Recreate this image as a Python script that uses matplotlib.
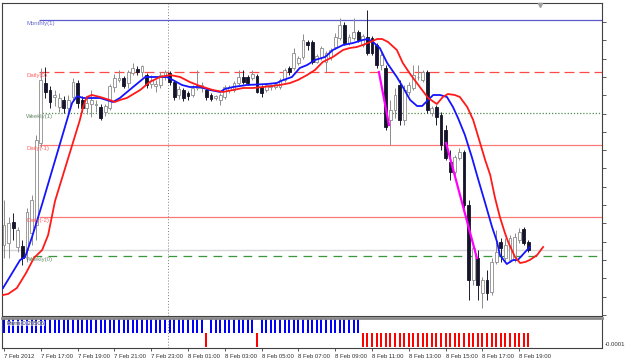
import numpy as np
import matplotlib
matplotlib.use("Agg")
import matplotlib.pyplot as plt

plt.rcParams['font.family'] = ['Liberation Sans', 'DejaVu Sans']

# M15 candles, 7 Feb 2012 15:00 .. 8 Feb 2012 19:30 (bar index = position)
opens = [1.3155, 1.3157, 1.3178, 1.3153, 1.3154, 1.3150, 1.3167, 1.3175, 1.3257, 1.3317,
	1.3310, 1.3303, 1.3293, 1.3300, 1.3292, 1.3303, 1.3317, 1.3300, 1.3292, 1.3296,
	1.3295, 1.3293, 1.3288, 1.3292, 1.3313, 1.3320, 1.3322, 1.3317, 1.3327, 1.3331,
	1.3328, 1.3325, 1.3316, 1.3314, 1.3315, 1.3323, 1.3327, 1.3318, 1.3305, 1.3310,
	1.3307, 1.3305, 1.3312, 1.3312, 1.3310, 1.3305, 1.3302, 1.3300, 1.3303, 1.3310,
	1.3310, 1.3317, 1.3323, 1.3323, 1.3322, 1.3324, 1.3313, 1.3310, 1.3313, 1.3313,
	1.3313, 1.3320, 1.3332, 1.3332, 1.3337, 1.3343, 1.3358, 1.3358, 1.3338, 1.3343,
	1.3338, 1.3343, 1.3353, 1.3362, 1.3375, 1.3357, 1.3362, 1.3368, 1.3355, 1.3363,
	1.3362, 1.3355, 1.3335, 1.3332, 1.3280, 1.3290, 1.3315, 1.3280, 1.3308, 1.3312,
	1.3323, 1.3320, 1.3328, 1.3287, 1.3293, 1.3285, 1.3270, 1.3238, 1.3228, 1.3242,
	1.3248, 1.3195, 1.3120, 1.3142, 1.3107, 1.3120, 1.3108, 1.3138, 1.3158, 1.3142,
	1.3140, 1.3140, 1.3160, 1.3171, 1.3158]
highs = [1.3200, 1.3183, 1.3187, 1.3173, 1.3160, 1.3192, 1.3205, 1.3265, 1.3332, 1.3333,
	1.3314, 1.3310, 1.3307, 1.3304, 1.3305, 1.3322, 1.3320, 1.3304, 1.3302, 1.3310,
	1.3300, 1.3296, 1.3296, 1.3316, 1.3326, 1.3330, 1.3324, 1.3330, 1.3337, 1.3334,
	1.3335, 1.3327, 1.3325, 1.3320, 1.3328, 1.3330, 1.3329, 1.3320, 1.3314, 1.3312,
	1.3309, 1.3315, 1.3330, 1.3318, 1.3312, 1.3307, 1.3305, 1.3307, 1.3315, 1.3315,
	1.3319, 1.3330, 1.3330, 1.3325, 1.3330, 1.3326, 1.3315, 1.3317, 1.3316, 1.3318,
	1.3322, 1.3332, 1.3334, 1.3352, 1.3344, 1.3366, 1.3360, 1.3360, 1.3346, 1.3354,
	1.3349, 1.3352, 1.3367, 1.3382, 1.3378, 1.3366, 1.3382, 1.3370, 1.3366, 1.3390,
	1.3364, 1.3357, 1.3348, 1.3335, 1.3300, 1.3312, 1.3320, 1.3315, 1.3318, 1.3335,
	1.3335, 1.3330, 1.3330, 1.3294, 1.3295, 1.3288, 1.3275, 1.3250, 1.3245, 1.3252,
	1.3250, 1.3200, 1.3155, 1.3150, 1.3123, 1.3130, 1.3142, 1.3170, 1.3162, 1.3162,
	1.3165, 1.3167, 1.3172, 1.3173, 1.3160]
lows = [1.3142, 1.3142, 1.3160, 1.3148, 1.3135, 1.3138, 1.3155, 1.3160, 1.3253, 1.3302,
	1.3292, 1.3294, 1.3288, 1.3287, 1.3285, 1.3300, 1.3292, 1.3288, 1.3286, 1.3283,
	1.3288, 1.3280, 1.3284, 1.3290, 1.3308, 1.3318, 1.3312, 1.3312, 1.3325, 1.3325,
	1.3323, 1.3312, 1.3312, 1.3308, 1.3312, 1.3320, 1.3315, 1.3300, 1.3301, 1.3299,
	1.3300, 1.3303, 1.3310, 1.3308, 1.3300, 1.3299, 1.3300, 1.3295, 1.3301, 1.3307,
	1.3308, 1.3315, 1.3316, 1.3315, 1.3320, 1.3307, 1.3303, 1.3308, 1.3310, 1.3311,
	1.3311, 1.3318, 1.3325, 1.3330, 1.3335, 1.3341, 1.3350, 1.3336, 1.3337, 1.3340,
	1.3328, 1.3340, 1.3351, 1.3360, 1.3355, 1.3355, 1.3360, 1.3358, 1.3353, 1.3345,
	1.3345, 1.3332, 1.3330, 1.3270, 1.3255, 1.3282, 1.3275, 1.3275, 1.3305, 1.3310,
	1.3320, 1.3318, 1.3287, 1.3284, 1.3275, 1.3250, 1.3240, 1.3220, 1.3225, 1.3240,
	1.3192, 1.3100, 1.3115, 1.3100, 1.3092, 1.3100, 1.3105, 1.3136, 1.3138, 1.3138,
	1.3138, 1.3138, 1.3157, 1.3155, 1.3148]
closes = [1.3175, 1.3177, 1.3172, 1.3170, 1.3142, 1.3188, 1.3200, 1.3260, 1.3320, 1.3308,
	1.3298, 1.3305, 1.3302, 1.3292, 1.3300, 1.3318, 1.3297, 1.3292, 1.3297, 1.3300,
	1.3296, 1.3282, 1.3294, 1.3314, 1.3322, 1.3322, 1.3314, 1.3328, 1.3332, 1.3328,
	1.3334, 1.3315, 1.3320, 1.3316, 1.3325, 1.3328, 1.3318, 1.3303, 1.3311, 1.3302,
	1.3304, 1.3312, 1.3315, 1.3315, 1.3303, 1.3301, 1.3304, 1.3305, 1.3313, 1.3313,
	1.3317, 1.3323, 1.3318, 1.3317, 1.3326, 1.3308, 1.3307, 1.3315, 1.3315, 1.3316,
	1.3320, 1.3330, 1.3328, 1.3347, 1.3342, 1.3360, 1.3355, 1.3338, 1.3344, 1.3352,
	1.3347, 1.3350, 1.3363, 1.3375, 1.3357, 1.3363, 1.3368, 1.3360, 1.3364, 1.3347,
	1.3347, 1.3335, 1.3345, 1.3273, 1.3290, 1.3305, 1.3280, 1.3310, 1.3315, 1.3325,
	1.3323, 1.3328, 1.3290, 1.3292, 1.3283, 1.3255, 1.3242, 1.3228, 1.3243, 1.3248,
	1.3195, 1.3120, 1.3152, 1.3115, 1.3120, 1.3107, 1.3138, 1.3148, 1.3152, 1.3155,
	1.3162, 1.3163, 1.3168, 1.3157, 1.3150]

# fast moving average (blue) at bar positions
fast_x = [-0.2, 3.5, 4.6, 6.1, 8.3, 13.7, 14.8, 15.9, 17.2, 20.9, 23.7, 25.2, 27.8, 30.7,
	33.5, 35.4, 36.7, 38.7, 40.4, 42.6, 44.8, 47.0, 48.0, 49.8, 52.8, 57.2, 59.3, 60.7,
	62.6, 64.3, 65.9, 67.6, 69.8, 71.5, 73.7, 75.9, 78.0, 79.1, 80.2, 81.7, 83.3, 85.4,
	86.7, 88.3, 89.8, 90.9, 92.2, 93.3, 94.8, 96.3, 97.6, 98.7, 100.2, 101.7, 103.0,
	104.6, 106.1, 107.2, 107.8, 109.3, 110.7, 111.7, 113.3, 114.3]
fast_y = [1.3112, 1.3140, 1.3143, 1.3163, 1.3196, 1.3280, 1.3297, 1.3304, 1.3302, 1.3302,
	1.3298, 1.3302, 1.3312, 1.3323, 1.3323, 1.3323, 1.3320, 1.3315, 1.3313, 1.3313,
	1.3310, 1.3308, 1.3311, 1.3313, 1.3315, 1.3316, 1.3317, 1.3320, 1.3323, 1.3332,
	1.3335, 1.3340, 1.3343, 1.3350, 1.3355, 1.3357, 1.3360, 1.3361, 1.3358, 1.3352,
	1.3337, 1.3323, 1.3313, 1.3300, 1.3294, 1.3294, 1.3300, 1.3305, 1.3305, 1.3303,
	1.3293, 1.3282, 1.3265, 1.3243, 1.3222, 1.3197, 1.3173, 1.3158, 1.3145, 1.3136,
	1.3140, 1.3140, 1.3148, 1.3153]

# slow shifted moving average (red)
slow_x = [-0.2, 0.9, 2.8, 4.8, 6.5, 8.3, 9.6, 11.1, 16.5, 17.2, 18.0, 19.1, 20.9, 23.0,
	24.1, 25.2, 26.7, 29.6, 31.7, 33.9, 36.1, 38.3, 40.4, 42.6, 45.4, 47.6, 49.8, 52.0,
	54.1, 56.3, 58.3, 60.0, 62.2, 63.9, 65.9, 67.6, 69.3, 71.5, 73.7, 75.2, 76.7, 78.0,
	79.6, 81.1, 82.2, 83.5, 85.4, 86.7, 88.3, 90.4, 92.2, 94.1, 95.4, 96.5, 98.0, 99.1,
	100.7, 102.0, 103.5, 104.6, 105.7, 106.7, 107.8, 108.9, 109.6, 111.1, 112.2, 113.3,
	114.3, 115.9, 117.2]
slow_y = [1.3105, 1.3106, 1.3112, 1.3127, 1.3142, 1.3150, 1.3165, 1.3199, 1.3280, 1.3293,
	1.3303, 1.3305, 1.3303, 1.3300, 1.3298, 1.3300, 1.3302, 1.3310, 1.3318, 1.3323,
	1.3325, 1.3323, 1.3318, 1.3314, 1.3310, 1.3308, 1.3310, 1.3312, 1.3312, 1.3313,
	1.3314, 1.3315, 1.3317, 1.3320, 1.3325, 1.3330, 1.3338, 1.3343, 1.3350, 1.3352,
	1.3353, 1.3355, 1.3358, 1.3361, 1.3361, 1.3358, 1.3350, 1.3337, 1.3326, 1.3313,
	1.3302, 1.3296, 1.3303, 1.3306, 1.3305, 1.3303, 1.3293, 1.3280, 1.3257, 1.3240,
	1.3225, 1.3203, 1.3183, 1.3167, 1.3158, 1.3143, 1.3137, 1.3138, 1.3140, 1.3145,
	1.3153]

# magenta swing segments
swing_x = [[81.5, 83.7], [96.1, 102.8]]
swing_y = [[1.3328, 1.3275], [1.3257, 1.3142]]

# pivot levels
level_names = ["Monthly(1)", "Daily(0)", "Weekly(1)", "Daily(-1)", "Daily(-2)", "Weekly(0)"]
level_prices = [1.3380, 1.3328, 1.3287, 1.3255, 1.3183, 1.3144]
level_start = [7.6, 7.6, 7.6, 7.6, 7.6, 6.3]
level_colors = ['#5a5ac8', '#ff4a4a', '#4e8e4e', '#ff7878', '#ff7878', '#3c963c']
level_text = ['#6a6ad0', '#ff6060', '#6a8a6a', '#ff6060', '#ff6060', '#6a8a6a']
level_styles = [(0, ()), (0, (8, 4)), (0, (1, 1.5)), (0, ()), (0, ()), (0, (7, 5))]
bid = 1.3150

# sub-window histogram signs
hist = [1] * 44 + [-1] + [1] * 10 + [-1] + [1] * 22 + [-1] * 37
hist_name = "Parm-0.20506"

tick_pos = list(range(0, 113, 8))
tick_labels = ["7 Feb 2012", "7 Feb 17:00", "7 Feb 19:00", "7 Feb 21:00", "7 Feb 23:00",
	"8 Feb 01:00", "8 Feb 03:00", "8 Feb 05:00", "8 Feb 07:00", "8 Feb 09:00",
	"8 Feb 11:00", "8 Feb 13:00", "8 Feb 15:00", "8 Feb 17:00", "8 Feb 19:00"]
separator = 35.7

W, H = 625, 360
fig = plt.figure(figsize=(W / 100, H / 100), dpi=100)
fig.patch.set_facecolor('white')
ax = fig.add_axes([2 / W, 1 - 316 / H, 600 / W, 313 / H])
axh = fig.add_axes([2 / W, 1 - 348 / H, 600 / W, 30 / H], sharex=ax)

xmin, xmax = -0.43, 130
ax.set_xlim(xmin, xmax)
ax.set_ylim(1.3084, 1.3397)

o, h, l, c = map(np.array, (opens, highs, lows, closes))
idx = np.arange(len(o))
up = c >= o

# levels and bid line
ax.axhline(bid, color='#d6d6d6', lw=1.0, zorder=1)
for name, p, s, col, tcol, ls in zip(level_names, level_prices, level_start,
		level_colors, level_text, level_styles):
	ax.hlines(p, s, xmax, colors=col, lw=0.9, linestyles=[ls], zorder=1)
	ax.annotate(name, (4.8, p), xytext=(0, -0.6), textcoords='offset points',
		ha='left', va='top', fontsize=4.3, color=tcol, zorder=4)

for a in (ax, axh):
	a.axvline(separator, color='#808080', lw=0.7, ls=(0, (1, 2)), zorder=1)

# candles
ax.vlines(idx[up], l[up], h[up], color='#8c8c8c', lw=0.7, zorder=2)
ax.vlines(idx[~up], l[~up], h[~up], color='#1c1c30', lw=0.7, zorder=2)
body = np.maximum(np.abs(c - o), 0.00003)
ax.bar(idx[up], body[up], bottom=np.minimum(o, c)[up], width=0.62,
	color='white', edgecolor='#8c8c8c', lw=0.6, zorder=2.5)
ax.bar(idx[~up], body[~up], bottom=np.minimum(o, c)[~up], width=0.62,
	color='#14142a', edgecolor='#14142a', lw=0.6, zorder=2.5)

ax.plot(fast_x, fast_y, color='#1414ff', lw=1.3, zorder=3)
ax.plot(slow_x, slow_y, color='#ff1a1a', lw=1.3, zorder=3)
for sx, sy in zip(swing_x, swing_y):
	ax.plot(sx, sy, color='#ff00ff', lw=1.6, zorder=3)

# chart shift marker
ax.plot([116.5], [1.33955], marker='v', ms=3, color='#a0a0a0', clip_on=False, zorder=5)

ax.yaxis.tick_right()
ax.set_yticks(np.arange(1.3378, 1.3085, -0.00183))
ax.tick_params(axis='y', length=3, width=0.6, color='#404040', labelright=False)
ax.tick_params(axis='x', length=0, labelbottom=False)
for sp in ax.spines.values():
	sp.set_color('#404040')
	sp.set_linewidth(0.8)

# histogram sub-window
axh.bar(idx, hist, width=0.45, color=['#0000ff' if v > 0 else '#ff0000' for v in hist],
	zorder=2)
axh.set_ylim(-1.05, 1.07)
axh.set_yticks([])
axh.text(0.5, 0.68, hist_name, fontsize=4.3, color='#404040', ha='left', va='center',
	bbox=dict(facecolor='white', edgecolor='none', alpha=0.55, pad=0.3), zorder=4)
axh.text(1.005, 0.1, "-0.0001", transform=axh.transAxes, fontsize=4.3,
	color='#303030', ha='left', va='center', clip_on=False)
axh.set_xticks(tick_pos)
axh.set_xticklabels(tick_labels, ha='left', fontsize=4.3, color='#303030')
axh.tick_params(axis='x', length=2.5, width=0.6, pad=1.5, color='#404040')
for sp in axh.spines.values():
	sp.set_color('#404040')
	sp.set_linewidth(0.8)
axh.spines['top'].set_color('#8a8a8a')
axh.spines['top'].set_linewidth(2.0)

fig.savefig('out.png', dpi=100)
